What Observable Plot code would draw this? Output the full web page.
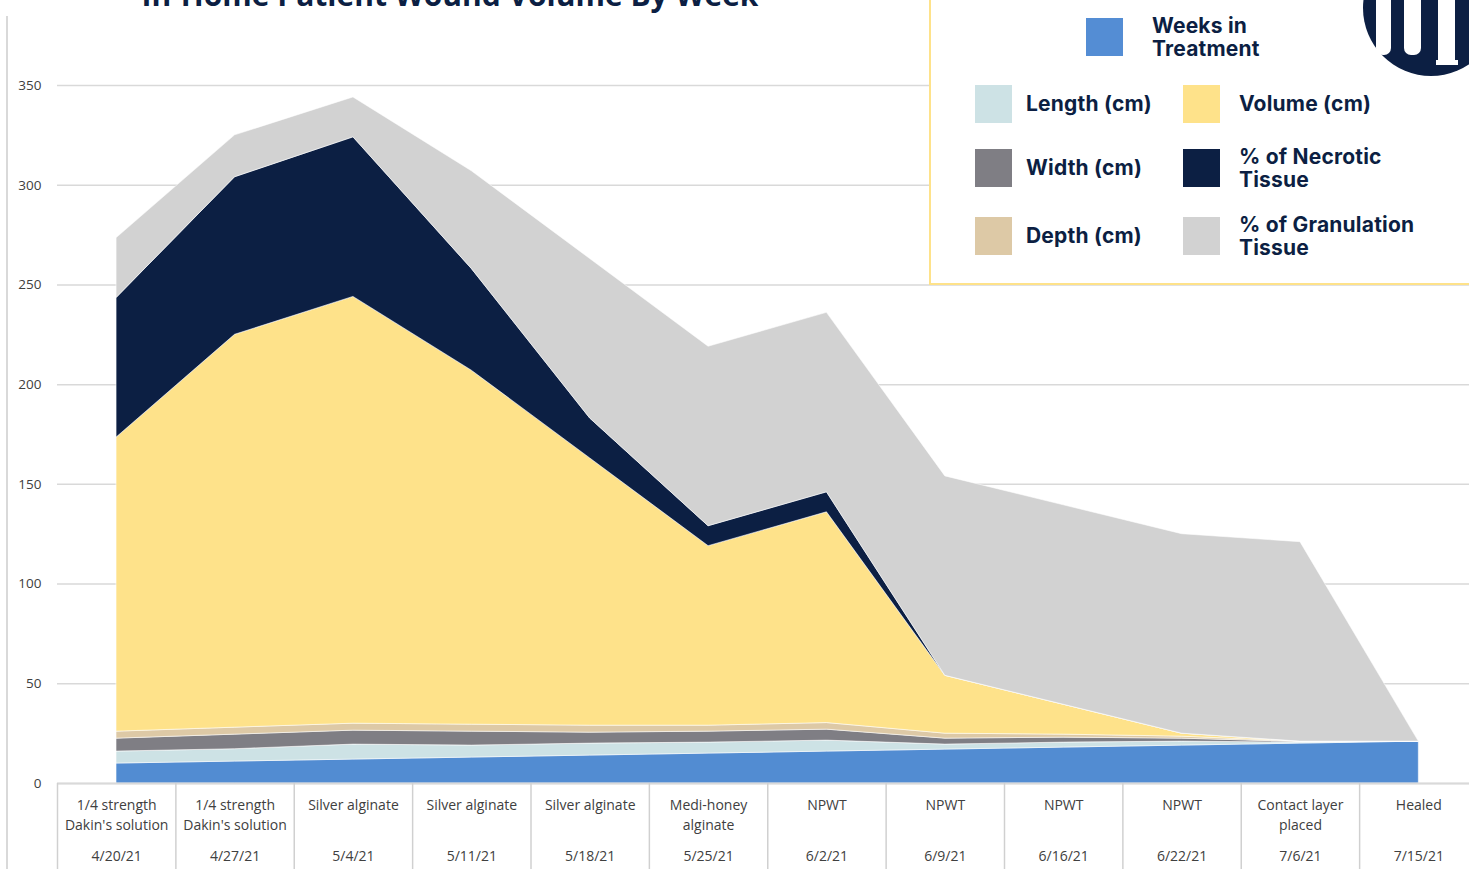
<!DOCTYPE html>
<html>
<head>
<meta charset="utf-8">
<script src="https://cdn.jsdelivr.net/npm/d3@7"></script>
<script src="https://cdn.jsdelivr.net/npm/@observablehq/plot@0.6"></script>
<style>
  html, body { margin: 0; padding: 0; background: #fff; overflow: hidden; }
  #page { position: relative; width: 1469px; height: 869px; overflow: hidden; background: #fff; }
  #chart { position: absolute; left: 0; top: 0; width: 1480px; }
  #chart svg { max-width: none !important; }
  #title { position: absolute; left: 0; width: 900px; top: -20px; text-align: center;
    font-family: "Open Sans", sans-serif; font-weight: 700; font-size: 30px; line-height: 30px; color: #0C1F43; }
  #leftline { position: absolute; left: 6px; top: 16px; width: 2px; height: 860px; background: #D9D9D9; }
  #legend { position: absolute; left: 929px; top: -2px; width: 560px; height: 285px;
    border-left: 2px solid #FEE28A; border-bottom: 2px solid #FEE28A; background: #fff; }
  .sw { position: absolute; width: 37px; height: 38px; }
  .lt { position: absolute; font-family: Inter, sans-serif; font-weight: 700; font-size: 21px;
    letter-spacing: 0.2px; line-height: 23px; color: #0C1F43; white-space: nowrap; }
  #logo { position: absolute; left: 1340px; top: 0; }
</style>
</head>
<body>
<div id="page">
  <div id="chart"></div>
  <div id="leftline"></div>
  <div id="title">In-Home Patient Wound Volume By Week</div>
  <div id="legend"></div>
  <svg id="logo" width="129" height="90" viewBox="1340 0 129 90">
    <circle cx="1431" cy="8" r="68" fill="#0C1F43"></circle>
    <rect x="1376" y="-10" width="15" height="65" rx="7" fill="#fff"></rect>
    <rect x="1404" y="-10" width="17" height="65" rx="7" fill="#fff"></rect>
    <path d="M1438,-10 h17 v70 h3 v5 h-22 v-5 h2 z" fill="#fff"></path>
  </svg>
</div>
<script>
// ---- data ----
const dates = ["4/20/21","4/27/21","5/4/21","5/11/21","5/18/21","5/25/21","6/2/21","6/9/21","6/16/21","6/22/21","7/6/21","7/15/21"];
const treatments = ["1/4 strength\nDakin's solution","1/4 strength\nDakin's solution","Silver alginate","Silver alginate","Silver alginate","Medi-honey\nalginate","NPWT","NPWT","NPWT","NPWT","Contact layer\nplaced","Healed"];
const seriesNames = ["Weeks in Treatment","Length (cm)","Width (cm)","Depth (cm)","Volume (cm)","% of Necrotic Tissue","% of Granulation Tissue"];
const seriesColors = ["#528CD2","#CDE2E5","#7F7E84","#DDC9A6","#FEE28A","#0C1F43","#D2D2D2"];
const weeksInTreatment = [10, 11, 12, 13, 14, 15, 16, 17, 18, 19, 20, 21];
const lengthCm   = [6, 6.2, 7.5, 6, 6, 5.5, 5.5, 2.5, 2.5, 2, 0.5, 0];
const widthCm    = [6.5, 7.3, 7, 7, 5.5, 5.5, 5.5, 3, 2.5, 1.5, 0.3, 0];
const depthCm    = [3.5, 3.5, 3.5, 3.5, 3.5, 3, 3.3, 2.5, 1.5, 1, 0.2, 0];
const volumeCm   = [147.5, 197, 214, 177.5, 134, 90, 105.7, 29, 15, 1.5, 0, 0];
const necroticPct    = [70, 79, 80, 51, 20, 10, 10, 0, 0, 0, 0, 0];
const granulationPct = [30, 21, 20, 49, 80, 90, 90, 100, 100, 100, 100, 0];
const yTicks = [0, 50, 100, 150, 200, 250, 300, 350];

const seriesValues = [weeksInTreatment, lengthCm, widthCm, depthCm, volumeCm, necroticPct, granulationPct];
const rows = seriesNames.flatMap((s, k) => dates.map((d, i) => ({i, series: s, value: seriesValues[k][i]})));
const idx = dates.map((d, i) => i);
const bounds = dates.map((d, i) => i - 0.5).concat([dates.length - 0.5]);

const chart = Plot.plot({
  width: 1480, height: 869,
  marginLeft: 57, marginRight: 2.5, marginTop: 85, marginBottom: 86,
  x: {type: "linear", domain: [-0.5, dates.length - 0.5], label: null},
  y: {domain: [0, 350], label: null},
  color: {domain: seriesNames, range: seriesColors},
  style: {fontFamily: "'Open Sans', sans-serif", fontSize: "13.5px", color: "#404040", background: "transparent", maxWidth: "none"},
  marks: [
    Plot.gridY(yTicks, {stroke: "#D9D9D9", strokeOpacity: 1, strokeWidth: 1.5}),
    Plot.axisY(yTicks, {tickSize: 0, tickPadding: 16, fontSize: 13.5, label: null}),
    Plot.areaY(rows, {x: "i", y: "value", z: "series", fill: "series", stroke: "white", strokeOpacity: 0.55, strokeWidth: 1}),
    Plot.ruleY([0], {stroke: "#D9D9D9", strokeWidth: 2}),
    Plot.axisX(idx, {tickSize: 0, tickPadding: 12, tickFormat: i => treatments[i], lineHeight: 1.45, fontSize: 14, label: null}),
    Plot.axisX(idx, {tickSize: 0, tickPadding: 68, tickFormat: i => dates[i], fontSize: 14, label: null}),
    Plot.axisX(bounds, {tickSize: 86, tickFormat: () => "", stroke: "#D0D0D0", strokeWidth: 1.5, label: null})
  ]
});
chart.style.maxWidth = "none";
document.getElementById("chart").appendChild(chart);

// ---- legend ----
const legend = document.getElementById("legend");
const L = 931, T = 0; // legend origin in page coords (inside border)
const items = [
  {k: 0, sx: 1086, sy: 18, tx: 1152, ty: 13.5, text: "Weeks in<br>Treatment"},
  {k: 1, sx: 975, sy: 85, tx: 1026, ty: 91.5, text: "Length (cm)"},
  {k: 4, sx: 1183, sy: 85, tx: 1239, ty: 91.5, text: "Volume (cm)"},
  {k: 2, sx: 975, sy: 149, tx: 1026, ty: 155.5, text: "Width (cm)"},
  {k: 5, sx: 1183, sy: 149, tx: 1239, ty: 144.5, text: "% of Necrotic<br>Tissue"},
  {k: 3, sx: 975, sy: 217, tx: 1026, ty: 223.5, text: "Depth (cm)"},
  {k: 6, sx: 1183, sy: 217, tx: 1239, ty: 212.5, text: "% of Granulation<br>Tissue"}
];
for (const it of items) {
  const sw = document.createElement("div");
  sw.className = "sw";
  sw.style.left = (it.sx - L) + "px";
  sw.style.top = (it.sy + 2 - T) + "px";
  sw.style.background = it.k === 0 ? "#548DD4" : seriesColors[it.k];
  legend.appendChild(sw);
  const t = document.createElement("div");
  t.className = "lt";
  t.style.left = (it.tx - L) + "px";
  t.style.top = (it.ty + 2 - T) + "px";
  t.innerHTML = it.text;
  legend.appendChild(t);
}
</script>
</body>
</html>
